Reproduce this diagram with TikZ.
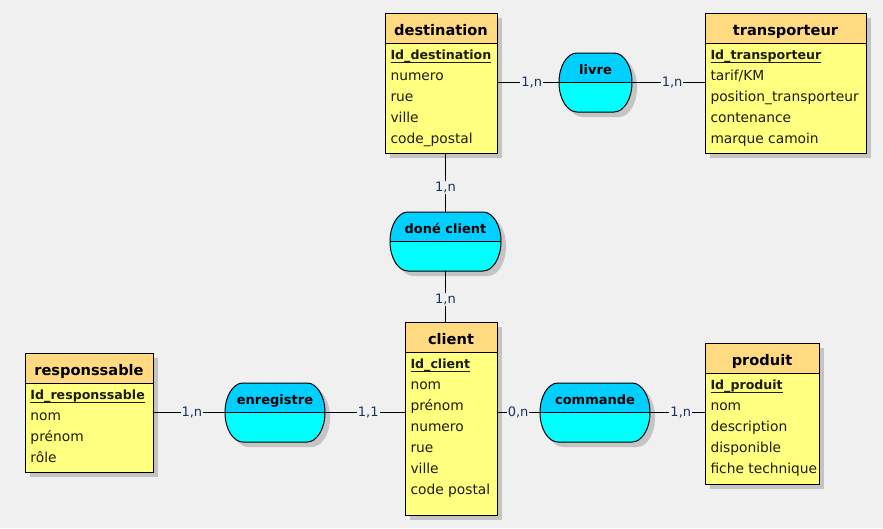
\documentclass[tikz,border=0pt]{standalone}
\usepackage{fontspec}
\setmainfont{DejaVu Sans}
\usetikzlibrary{shadows}

\definecolor{bgcol}{RGB}{240,240,240}
\definecolor{headcol}{RGB}{255,218,128}
\definecolor{bodycol}{RGB}{255,255,128}
\definecolor{asstop}{RGB}{0,208,255}
\definecolor{assbot}{RGB}{0,255,255}
\definecolor{shadowcol}{RGB}{196,196,196}
\definecolor{cardcol}{RGB}{25,50,95}
\definecolor{attrcol}{RGB}{30,30,10}

\newsavebox\idbox
\newcommand\idkey[1]{\sbox\idbox{\fontsize{12.6}{15}\selectfont\bfseries #1}\rlap{\rule[-3.5pt]{\wd\idbox}{1pt}}\usebox\idbox}

\begin{document}
\begin{tikzpicture}[x=1pt, y=-1pt, line width=1pt,
    entity/.style={draw, fill=bodycol, inner sep=0pt, outer sep=0pt,
        drop shadow={shadow xshift=5pt, shadow yshift=-5pt, fill=shadowcol, opacity=1},
        path picture={
            \fill [headcol] (path picture bounding box.north west) rectangle ([yshift=-30pt]path picture bounding box.north east);
            \draw ([yshift=-30pt]path picture bounding box.north west) -- ([yshift=-30pt]path picture bounding box.north east);
        }},
    assoc/.style={minimum height=59pt, inner sep=0pt, outer sep=0pt},
    assocpath/.style={insert path={([xshift=18pt]#1.north west) -- ([xshift=-18pt]#1.north east)
        .. controls ([xshift=-8.06pt]#1.north east) and ([yshift=16.3pt]#1.east) .. (#1.east)
        .. controls ([yshift=-16.3pt]#1.east) and ([xshift=-8.06pt]#1.south east) .. ([xshift=-18pt]#1.south east)
        -- ([xshift=18pt]#1.south west)
        .. controls ([xshift=8.06pt]#1.south west) and ([yshift=-16.3pt]#1.west) .. (#1.west)
        .. controls ([yshift=16.3pt]#1.west) and ([xshift=8.06pt]#1.north west) .. ([xshift=18pt]#1.north west) -- cycle}},
    title/.style={anchor=base, inner sep=0pt, font=\fontsize{14.6}{17}\selectfont\bfseries},
    attr/.style={anchor=base west, inner sep=0pt, text=attrcol, font=\fontsize{13.8}{16}\selectfont},
    aname/.style={anchor=base, inner sep=0pt, font=\fontsize{13}{15}\selectfont\bfseries},
    card/.style={fill=bgcol, inner sep=1pt, text=cardcol, font=\fontsize{13}{15}\selectfont}]

    % Background
    \useasboundingbox [fill=bgcol] (0,0) rectangle (883,528);

    % Entities
    \node [entity, minimum width=112pt, minimum height=140pt] (destination) at (441,83) {};
    \node [entity, minimum width=161pt, minimum height=140pt] (transporteur) at (785.5,83) {};
    \node [entity, minimum width=92pt, minimum height=193pt] (client) at (451,418.5) {};
    \node [entity, minimum width=128pt, minimum height=119pt] (responssable) at (89,412.5) {};
    \node [entity, minimum width=114pt, minimum height=141pt] (produit) at (762,413.5) {};

    % Titles and attributes
    \foreach \e/\l in {destination/{\idkey{Id\_destination}, numero, rue, ville, code\_postal},
        transporteur/{\idkey{Id\_transporteur}, tarif/KM, position\_transporteur, contenance, marque camoin},
        client/{\idkey{Id\_client}, nom, prénom, numero, rue, ville, code postal},
        responssable/{\idkey{Id\_responssable}, nom, prénom, rôle},
        produit/{\idkey{Id\_produit}, nom, description, disponible, fiche technique}} {
        \node [title] at ([yshift=-22pt]\e.north) {\e};
        \foreach \t [count=\i] in \l
            \node [attr] at ([xshift=5pt, yshift={-25.5pt-21pt*\i}]\e.north west) {\t};
    }

    % Associations
    \node [assoc, minimum width=73pt] (livre) at (595.5,82.5) {};
    \node [assoc, minimum width=111pt] (doneclient) at (445.5,241.5) {};
    \node [assoc, minimum width=100pt] (enregistre) at (275,412.5) {};
    \node [assoc, minimum width=110pt] (commande) at (595,412.5) {};

    \foreach \a/\n in {livre/livre, doneclient/doné client, enregistre/enregistre, commande/commande} {
        \fill [shadowcol, transform canvas={shift={(5pt,-5pt)}}] [assocpath=\a];
        \begin{scope}
            \clip [assocpath=\a];
            \fill [assbot] (\a.north west) rectangle (\a.south east);
            \fill [asstop] (\a.north west) rectangle (\a.east);
        \end{scope}
        \draw [assocpath=\a];
        \draw (\a.west) -- (\a.east);
        \node [aname] at ([yshift=8.5pt]\a.center) {\n};
    }

    % Links with cardinalities
    \draw (livre) -- (livre -| destination.east) node [card, pos=.44] {1,n};
    \draw (livre) -- (livre -| transporteur.west) node [card, pos=.55] {1,n};
    \draw (doneclient) -- (doneclient |- destination.south) node [card, pos=.42] {1,n};
    \draw (doneclient) -- (doneclient |- client.north) node [card, pos=.56] {1,n};
    \draw (enregistre) -- (enregistre -| responssable.east) node [card, pos=.46] {1,n};
    \draw (enregistre) -- (enregistre -| client.west) node [card, pos=.54] {1,1};
    \draw (commande) -- (commande -| client.east) node [card, pos=.51] {0,n};
    \draw (commande) -- (commande -| produit.west) node [card, pos=.56] {1,n};

\end{tikzpicture}
\end{document}
